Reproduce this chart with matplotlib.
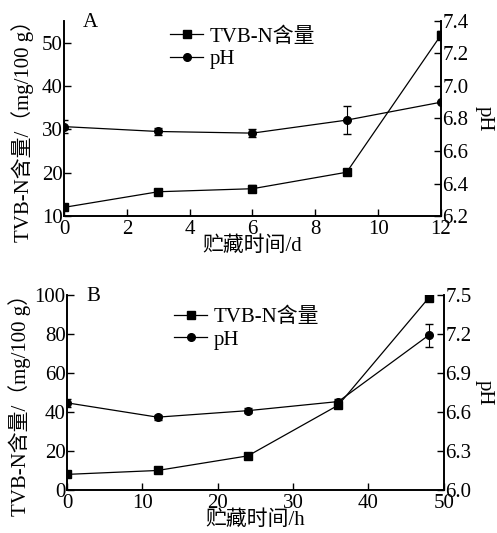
import matplotlib
matplotlib.use("Agg")
import matplotlib.pyplot as plt
from matplotlib.lines import Line2D

plt.rcParams['font.family'] = ['Liberation Serif', 'Noto Sans CJK SC']
plt.rcParams['font.size'] = 15
plt.rcParams['axes.unicode_minus'] = False

# panel A: days
days = [0, 3, 6, 9, 12]
tvbn_a = [12.0, 15.6, 16.3, 20.1, 51.7]
tvbn_a_err = [0.4, 0.4, 0.8, 0.4, 1.0]
ph_a = [6.75, 6.72, 6.71, 6.79, 6.90]
ph_a_err = [0.04, 0.02, 0.025, 0.085, 0.0]

# panel B: hours
hours = [0, 12, 24, 36, 48]
tvbn_b = [8.0, 10.0, 17.5, 43.5, 98.5]
tvbn_b_err = [0.5, 0.5, 0.6, 1.5, 1.0]
ph_b = [6.67, 6.56, 6.61, 6.68, 7.19]
ph_b_err = [0.03, 0.02, 0.02, 0.02, 0.09]

fig = plt.figure(figsize=(4.97, 5.33), dpi=100)


def panel(rect, x, tv, tv_err, ph, ph_err, xlim, xticks, ylim, yticks,
          plim, pticks, xlabel, letter, leg_xy, ylab_x, plab_x):
    ax = fig.add_axes(rect)
    ax2 = ax.twinx()
    ax.set_zorder(ax2.get_zorder() + 1)
    ax.patch.set_visible(False)
    ax.errorbar(x, tv, yerr=tv_err, color='black', marker='s', ms=6,
                lw=0.9, capsize=3, elinewidth=0.8)
    ax2.errorbar(x, ph, yerr=ph_err, color='black', marker='o', ms=5.5,
                 lw=0.9, capsize=3, elinewidth=0.8)
    ax.set_xlim(*xlim)
    ax.set_xticks(xticks)
    ax.set_ylim(*ylim)
    ax.set_yticks(yticks)
    ax2.set_ylim(*plim)
    ax2.set_yticks(pticks)
    ax2.set_yticklabels(['%.1f' % v for v in pticks])
    for a in (ax, ax2):
        a.spines['top'].set_visible(False)
        for s in a.spines.values():
            s.set_linewidth(1.2)
        a.tick_params(direction='in', length=5, width=1.0, pad=1)
    ax.tick_params(axis='x', pad=3)
    ax.set_xlabel(xlabel, labelpad=-2)
    ax.set_ylabel('TVB-N含量/（mg/100 g）', va='center')
    ax.yaxis.set_label_coords(ylab_x, 0.46)
    ax2.set_ylabel('pH', rotation=270, va='center')
    ax2.yaxis.set_label_coords(plab_x, 0.5)
    ax.text(0.05, 0.99, letter, transform=ax.transAxes, ha='left', va='center')
    handles = [Line2D([], [], color='black', marker='s', ms=6, lw=0.9),
               Line2D([], [], color='black', marker='o', ms=5.5, lw=0.9)]
    ax.legend(handles, ['TVB-N含量', 'pH'], loc='center left',
              bbox_to_anchor=leg_xy, frameon=False, handlelength=1.6,
              handletextpad=0.3, labelspacing=0.15, borderaxespad=0,
              borderpad=0)
    return ax


panel([0.129, 0.5947, 0.758, 0.366], days, tvbn_a, tvbn_a_err, ph_a, ph_a_err,
      (0, 12), [0, 2, 4, 6, 8, 10, 12], (10, 55), [10, 20, 30, 40, 50],
      (6.2, 7.4), [6.2, 6.4, 6.6, 6.8, 7.0, 7.2, 7.4], '贮藏时间/d', 'A',
      (0.281, 0.86), -0.111, 1.115)
panel([0.135, 0.0807, 0.758, 0.366], hours, tvbn_b, tvbn_b_err, ph_b, ph_b_err,
      (0, 50), [0, 10, 20, 30, 40, 50], (0, 100), [0, 20, 40, 60, 80, 100],
      (6.0, 7.5), [6.0, 6.3, 6.6, 6.9, 7.2, 7.5], '贮藏时间/h', 'B',
      (0.284, 0.828), -0.125, 1.107)

fig.savefig('out.png', dpi=100)
